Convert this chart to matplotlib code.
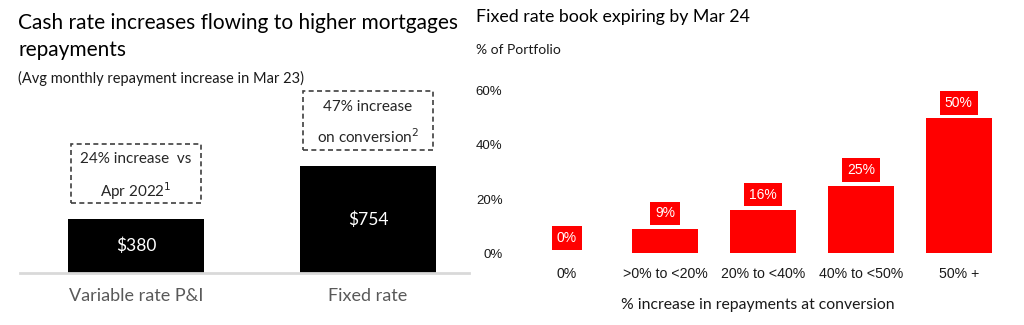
import matplotlib.pyplot as plt
from matplotlib.patches import Rectangle

plt.rcParams['font.family'] = ['Lato', 'DejaVu Sans']

# left panel data
repay_labels = ['Variable rate P&I', 'Fixed rate']
repay_values = [380, 754]
repay_notes = ['24% increase  vs\nApr 2022$^1$', '47% increase\non conversion$^2$']

# right panel data
band_labels = ['0%', '>0% to <20%', '20% to <40%', '40% to <50%', '50% +']
band_values = [0, 9, 16, 25, 50]

W, H = 1024, 325
fig = plt.figure(figsize=(W / 100, H / 100), dpi=100)
arial = ['Liberation Sans', 'DejaVu Sans']

# ---- left panel
ax1 = fig.add_axes([20 / W, 52 / H, 449 / W, 185 / H])
x1 = range(len(repay_values))
ax1.bar(x1, repay_values, width=0.586, color='black')
ax1.set_xlim(-0.5, 1.435)
ax1.set_ylim(0, 1300)
for s in ['top', 'right', 'left']:
    ax1.spines[s].set_visible(False)
ax1.spines['bottom'].set_color('#d9d9d9')
ax1.spines['bottom'].set_linewidth(2)
ax1.set_yticks([])
ax1.set_xticks(list(x1))
ax1.set_xticklabels(repay_labels, fontsize=13, color='#595959')
ax1.tick_params(axis='x', length=0, pad=11)
for i, v in enumerate(repay_values):
    ax1.text(i, v / 2, f'${v}', color='white', fontsize=12.5,
             ha='center', va='center')
    ax1.add_patch(Rectangle((i - 0.28, v + 110), 0.56, 415, fill=False,
                            edgecolor='#404040', linestyle=(0, (3, 2)),
                            linewidth=1.2, clip_on=False))
    # note text sits a little below the box centre
    ax1.text(i, v + 110 + 415 / 2 - 20, repay_notes[i], color='#262626',
             fontsize=11, ha='center', va='center', linespacing=1.85)

fig.text(18 / W, 1 - 23 / H, 'Cash rate increases flowing to higher mortgages',
         fontsize=15, va='center', ha='left', color='black')
fig.text(18 / W, 1 - 50 / H, 'repayments', fontsize=15, va='center',
         ha='left', color='black')
fig.text(18 / W, 1 - 78 / H, '(Avg monthly repayment increase in Mar 23)',
         fontsize=10.5, va='center', ha='left', color='#1a1a1a')

# ---- right panel
ax2 = fig.add_axes([515 / W, 72 / H, 485 / W, 175.5 / H])
x2 = range(len(band_values))
ax2.bar(x2, band_values, width=0.67, color='#ff0000')
ax2.set_xlim(-0.53, 4.42)
ax2.set_ylim(0, 65)
for s in ax2.spines.values():
    s.set_visible(False)
ax2.set_yticks([0, 20, 40, 60])
ax2.set_yticklabels(['0%', '20%', '40%', '60%'], fontsize=9.5,
                    family=arial, color='#1a1a1a')
ax2.tick_params(axis='y', length=0, pad=9)
ax2.set_xticks(list(x2))
ax2.set_xticklabels(band_labels, fontsize=10.2, family=arial, color='#1a1a1a')
ax2.tick_params(axis='x', length=0, pad=10)
for i, v in enumerate(band_values):
    ax2.annotate(f'{v}%', (i, v), xytext=(0, 11), textcoords='offset points',
                 ha='center', va='center', color='white', fontsize=10,
                 family=arial,
                 bbox=dict(boxstyle='square,pad=0.35', fc='#ff0000', ec='none'))
ax2.set_xlabel('% increase in repayments at conversion', fontsize=11.3,
               color='#1a1a1a', labelpad=12)

fig.text(476 / W, 1 - 17 / H, 'Fixed rate book expiring by Mar 24',
         fontsize=12.8, va='center', ha='left', color='black')
fig.text(476 / W, 1 - 50 / H, '% of Portfolio', fontsize=10, va='center',
         ha='left', color='#1a1a1a')

fig.savefig('out.png', dpi=100)
